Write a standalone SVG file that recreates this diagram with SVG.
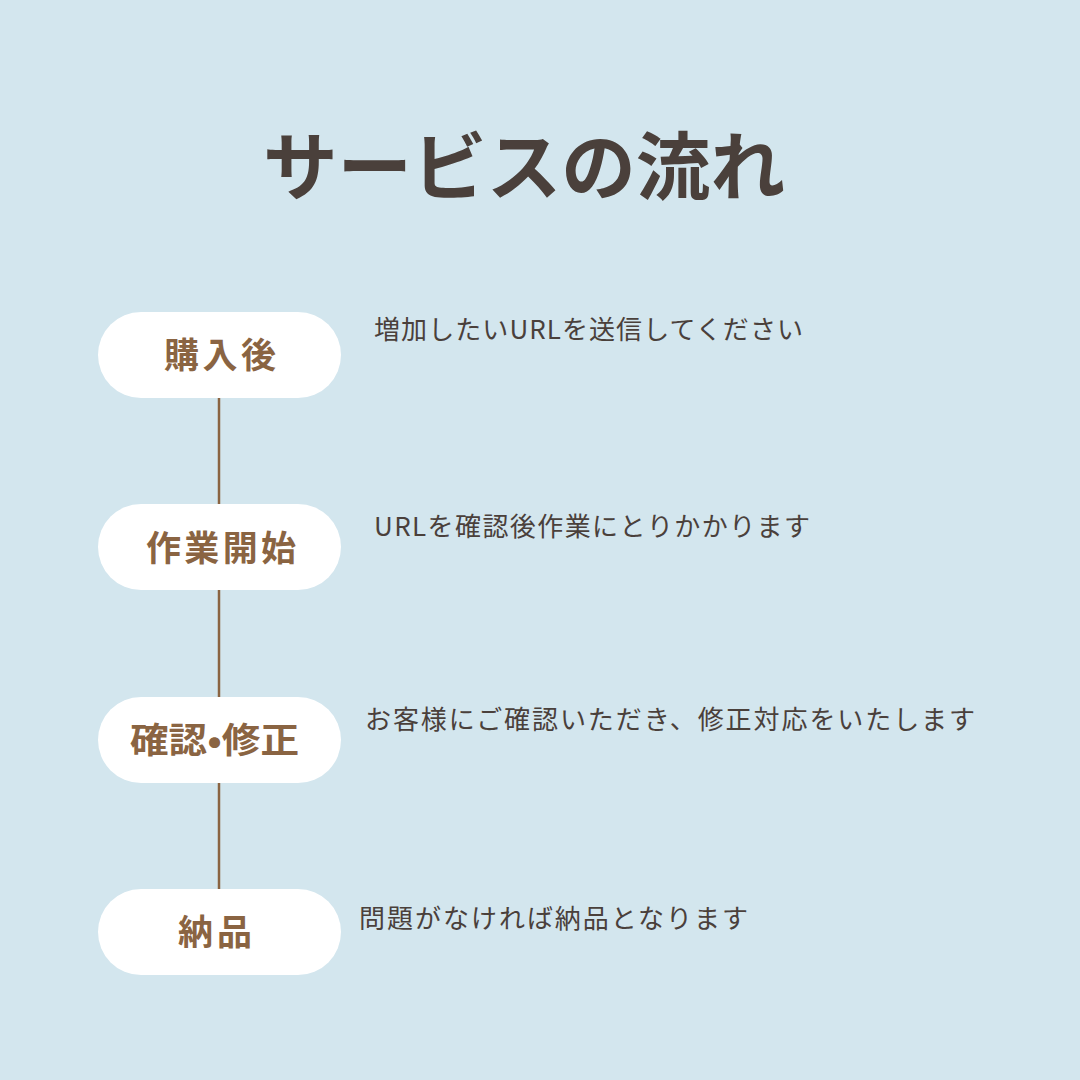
<svg xmlns="http://www.w3.org/2000/svg" width="1080" height="1080" viewBox="0 0 1080 1080">
<style>
.pill{fill:#ffffff}
.lbl{font-family:"Noto Sans CJK JP","Noto Sans",sans-serif;font-weight:700;font-size:35px;fill:#8a6442}
.desc{font-family:"Noto Sans CJK JP","Noto Sans",sans-serif;font-size:26px;fill:#4a403b}
.conn{stroke:#8a6442;stroke-width:2.5}
</style>
<rect width="1080" height="1080" fill="#d3e6ee"/>
<text x="263" y="194" textLength="522" lengthAdjust="spacingAndGlyphs" font-family="'Noto Sans CJK JP','Noto Sans',sans-serif" font-weight="700" font-size="74" fill="#4a403b">サービスの流れ</text>
<g id="connectors">
<line class="conn" x1="219" y1="398" x2="219" y2="504"/>
<line class="conn" x1="219" y1="590" x2="219" y2="697"/>
<line class="conn" x1="219" y1="783" x2="219" y2="889"/>
</g>
<g id="n1"><rect class="pill" x="98" y="312" width="243" height="86" rx="43"/><text class="lbl" x="164" y="368" textLength="112">購入後</text></g>
<g id="n2"><rect class="pill" x="98" y="504" width="243" height="86" rx="43"/><text class="lbl" x="146" y="561" textLength="150">作業開始</text></g>
<g id="n3"><rect class="pill" x="98" y="697" width="243" height="86" rx="43"/><text class="lbl" x="130" y="753" textLength="169" lengthAdjust="spacingAndGlyphs">確認•修正</text></g>
<g id="n4"><rect class="pill" x="98" y="889" width="243" height="86" rx="43"/><text class="lbl" x="178" y="945" textLength="74">納品</text></g>
<text class="desc" x="374" y="339" textLength="429">増加したいURLを送信してください</text>
<text class="desc" x="374" y="536" textLength="436">URLを確認後作業にとりかかります</text>
<text class="desc" x="365" y="729" textLength="610">お客様にご確認いただき、修正対応をいたします</text>
<text class="desc" x="359" y="928" textLength="389">問題がなければ納品となります</text>
</svg>
